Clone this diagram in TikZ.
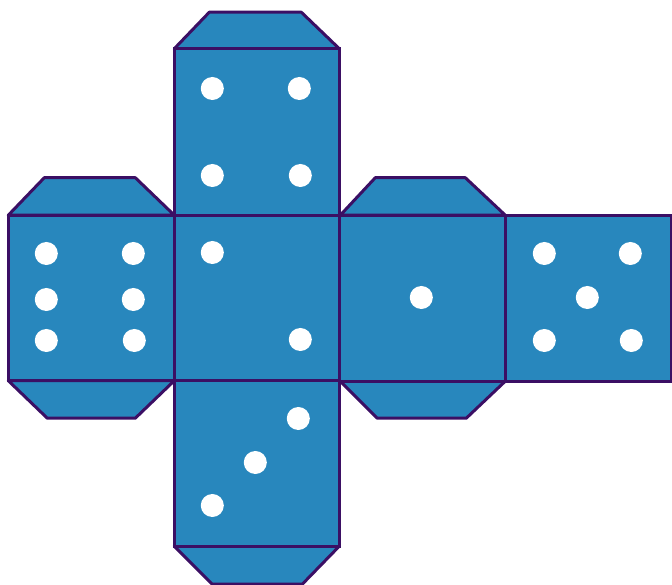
\documentclass[tikz,border=0pt]{standalone}
\definecolor{dadoblu}{HTML}{2887BD}
\definecolor{dadobordo}{HTML}{3B0F64}
\tikzset{
  faccia/.style = {draw=dadobordo, fill=dadoblu, line width=0.85pt, line join=miter},
  linguetta/.style = {faccia, line join=round},
  punto/.style = {fill=white}
}
\begin{document}
\begin{tikzpicture}[x=0.01cm,y=-0.01cm]
  \useasboundingbox (0,0) rectangle (672,585);
  \begin{scope}[shift={(0.3,0.2)}]
  % flaps
  \draw[linguetta] (174,48.5)--(209,12)--(301,12)--(339,48.5)--cycle;
  \draw[linguetta] (8,215)--(44,177.5)--(135,177.5)--(174,215)--cycle;
  \draw[linguetta] (8,380.5)--(47,418)--(135,418)--(174,380.5)--cycle;
  \draw[linguetta] (340,215)--(375,177.5)--(465,177.5)--(505,215)--cycle;
  \draw[linguetta] (340,381)--(377,418)--(466,418)--(505,381)--cycle;
  \draw[linguetta] (174,546)--(212,584)--(302,584)--(339,546)--cycle;
  % faces
  \draw[faccia] (174,48.5) rectangle (339.5,215);
  \draw[faccia] (8,215) rectangle (174,380.5);
  \draw[faccia] (174,215) rectangle (339.5,380.5);
  \draw[faccia] (339.5,215) rectangle (505,381);
  \draw[faccia] (505,215) rectangle (671,381);
  \draw[faccia] (174,380.5) rectangle (339.5,546);
  % pips
  \foreach \px/\py in {212/88.3, 299/88.3, 212/175.3, 300/175.3,
                       46/253.3, 133/253.3, 46/299.3, 133/299.3, 46/340.3, 134/340.3,
                       212/252.3, 300/339.3,
                       421/297.3,
                       544/253.3, 630/253.3, 587/297.3, 544/340.3, 631/340.3,
                       298/418.3, 255/462.3, 212/505.3}
    \fill[punto] (\px,\py) circle (0.115cm);
  \end{scope}
\end{tikzpicture}
\end{document}
